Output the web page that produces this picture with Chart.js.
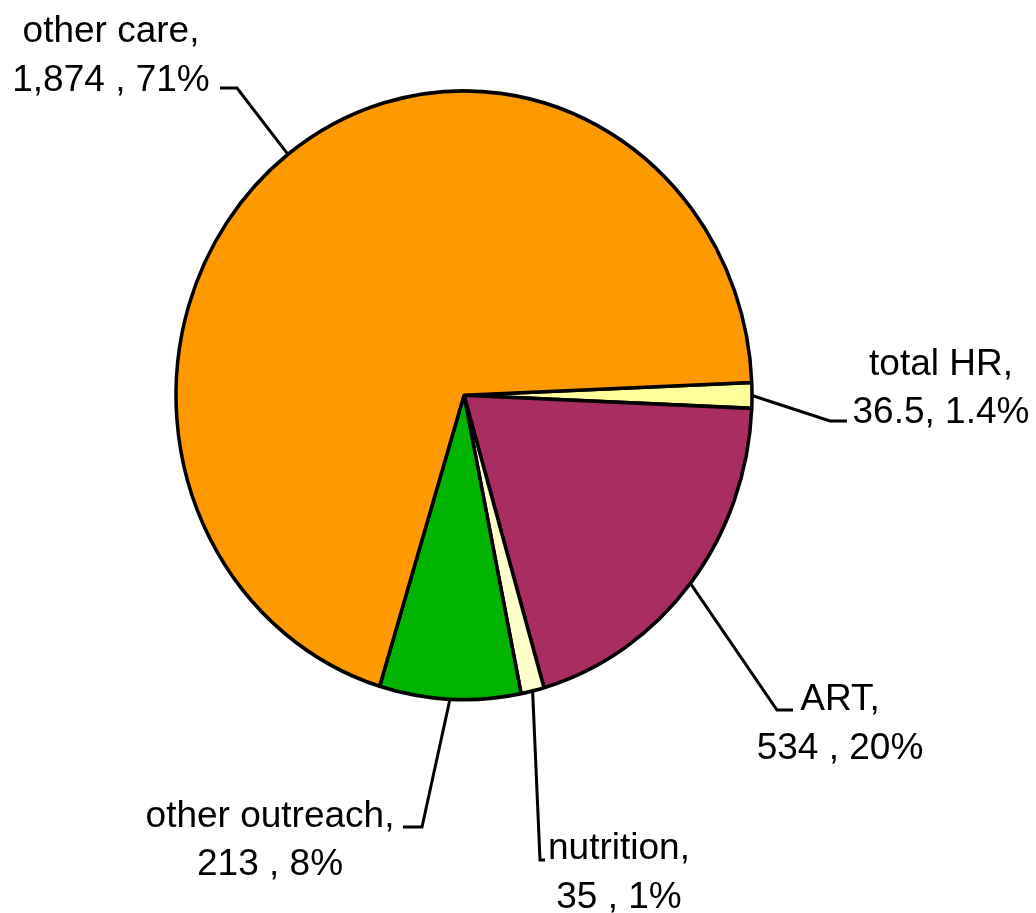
<!DOCTYPE html>
<html>
<head>
<meta charset="utf-8">
<script src="https://cdn.jsdelivr.net/npm/chart.js@4.4.1/dist/chart.umd.min.js"></script>
<style>
    html, body { margin: 0; padding: 0; background: #fff; }
    #wrap { width: 1036px; height: 913px; }
</style>
</head>
<body>
<div id="wrap"><canvas id="pieChart" width="1036" height="913"></canvas></div>
<script>
// Données
const categories = ["total HR", "ART", "nutrition", "other outreach", "other care"];
const values = [36.5, 534, 35, 213, 1874];
const valueLabels = ["36.5, 1.4%", "534 , 20%", "35 , 1%", "213 , 8%", "1,874 , 71%"];

const colors = ["#FFFF99", "#A92D61", "#FFFFCC", "#00B400", "#FF9900"];

// Le camembert est légèrement ovale (plus haut que large)
const SCALE_Y = 1.057;

// Placement des étiquettes : coude du trait, fin du trait, centre du texte, lignes de base
const labelLayout = [
    { elbow: [830, 421], end: [847, 421], cx: 941, base: [375, 423] },
    { elbow: [777, 710], end: [793, 710], cx: 840, base: [710, 759] },
    { elbow: [540, 860], end: [545, 860], cx: 619, base: [859, 908] },
    { elbow: [422, 827], end: [403, 827], cx: 270, base: [827, 875] },
    { elbow: [237, 88], end: [220, 88], cx: 111, base: [42, 91] },
];

// Étirement vertical du camembert
const ovalPlugin = {
    id: "oval",
    beforeDatasetsDraw(chart) {
        const arc = chart.getDatasetMeta(0).data[0];
        const ctx = chart.ctx;
        ctx.save();
        ctx.translate(arc.x, arc.y);
        ctx.scale(1, SCALE_Y);
        ctx.translate(-arc.x, -arc.y);
    },
    afterDatasetsDraw(chart) {
        chart.ctx.restore();
    }
};

// Étiquettes avec traits de rappel
const labelPlugin = {
    id: "leaderLabels",
    afterDraw(chart) {
        const ctx = chart.ctx;
        const arcs = chart.getDatasetMeta(0).data;
        ctx.save();
        ctx.strokeStyle = "#000";
        ctx.lineWidth = 3;
        ctx.lineJoin = "miter";
        ctx.fillStyle = "#000";
        ctx.font = "37px 'Liberation Sans', Arial, sans-serif";
        ctx.textAlign = "center";
        ctx.textBaseline = "alphabetic";
        arcs.forEach((arc, i) => {
            const mid = (arc.startAngle + arc.endAngle) / 2;
            const px = arc.x + Math.cos(mid) * arc.outerRadius;
            const py = arc.y + Math.sin(mid) * arc.outerRadius * SCALE_Y;
            const lay = labelLayout[i];
            ctx.beginPath();
            ctx.moveTo(px, py);
            ctx.lineTo(lay.elbow[0], lay.elbow[1]);
            ctx.lineTo(lay.end[0], lay.end[1]);
            ctx.stroke();
            ctx.fillText(categories[i] + ",", lay.cx, lay.base[0]);
            ctx.fillText(valueLabels[i], lay.cx, lay.base[1]);
        });
        ctx.restore();
    }
};

new Chart(document.getElementById("pieChart"), {
    type: "pie",
    data: {
        labels: categories,
        datasets: [{
            data: values,
            backgroundColor: colors,
            borderColor: "#000",
            borderWidth: 3.5,
            radius: 288,
        }],
    },
    options: {
        responsive: false,
        animation: false,
        rotation: 87.6,
        layout: { padding: { left: 0, right: 108, top: 0, bottom: 122.5 } },
        plugins: {
            legend: { display: false },
            tooltip: { enabled: false },
        },
    },
    plugins: [ovalPlugin, labelPlugin],
});
</script>
</body>
</html>
